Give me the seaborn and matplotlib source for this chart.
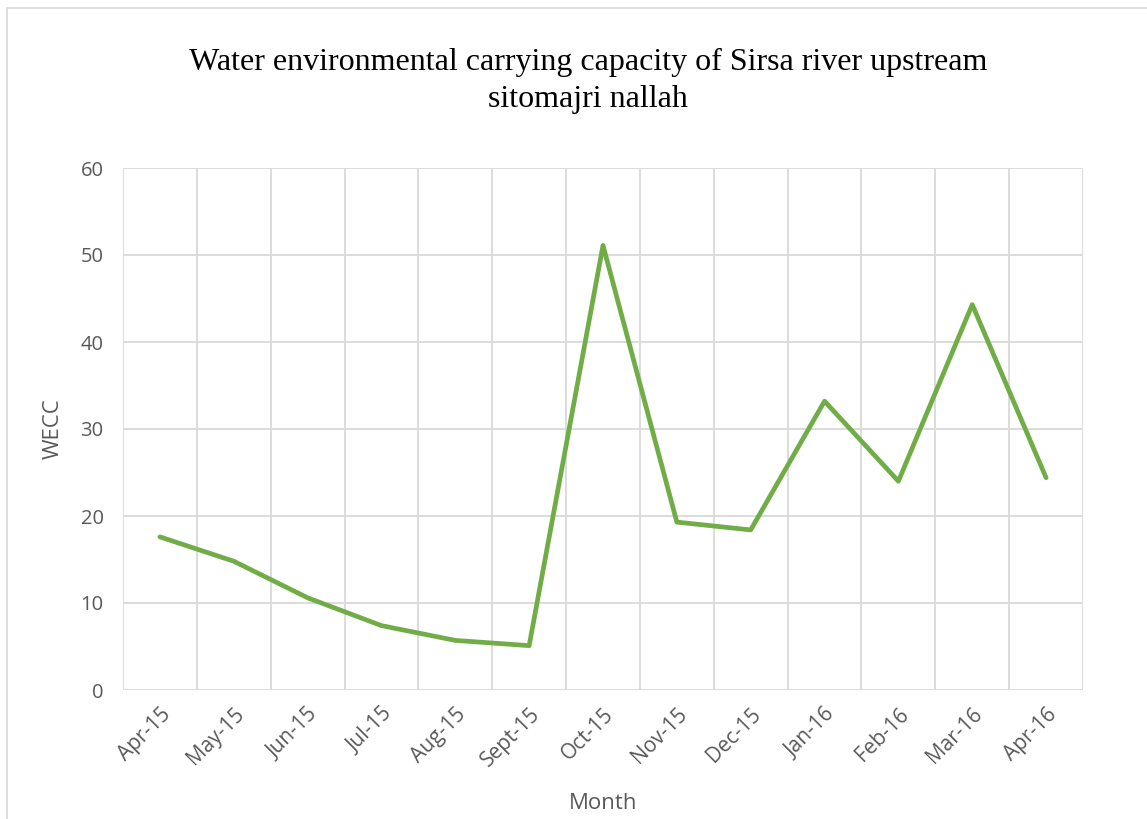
import matplotlib
matplotlib.use("Agg")
import matplotlib.pyplot as plt
from matplotlib.patches import Rectangle
import seaborn as sns
import pandas as pd
import numpy as np

months = ["Apr-15", "May-15", "Jun-15", "Jul-15", "Aug-15", "Sept-15", "Oct-15",
          "Nov-15", "Dec-15", "Jan-16", "Feb-16", "Mar-16", "Apr-16"]
wecc = [17.6, 14.8, 10.6, 7.4, 5.7, 5.1, 51.1, 19.3, 18.4, 33.2, 24.0, 44.3, 24.4]
y_ticks = [0, 10, 20, 30, 40, 50, 60]

title = "Water environmental carrying capacity of Sirsa river upstream\nsitomajri nallah"

sns.set_theme(style="white")
plt.rcParams["font.family"] = ["Open Sans", "DejaVu Sans"]

fig = plt.figure(figsize=(11.47, 8.19), dpi=100)
ax = fig.add_axes([123 / 1147, 1 - 690 / 819, 960 / 1147, 522 / 819])

# outer chart border (right and bottom edges run past the canvas)
fig.patches.append(Rectangle((7 / 1147, -0.05), 1.2, 1.05 - 8 / 819, transform=fig.transFigure,
                             fill=False, edgecolor="#D9D9D9", linewidth=1.2))

df = pd.DataFrame({"pos": np.arange(len(months)), "WECC": wecc})
sns.lineplot(data=df, x="pos", y="WECC", ax=ax, color="#70AD47", linewidth=3.4,
             solid_capstyle="round", solid_joinstyle="round")

ax.set_xlim(-0.5, len(months) - 0.5)
ax.set_ylim(0, 60)
ax.set_xticks(np.arange(len(months)))
ax.set_xticklabels(months, rotation=45, ha="right", rotation_mode="anchor",
                   fontsize=15, color="#595959")
ax.set_yticks(y_ticks)
ax.set_yticklabels([str(v) for v in y_ticks], fontsize=14.5, color="#595959")

ax.grid(False)
for v in y_ticks:
    ax.axhline(v, color="#D9D9D9", linewidth=1.3, zorder=0)
for b in np.arange(len(months) + 1) - 0.5:
    ax.axvline(b, color="#D9D9D9", linewidth=1.3, zorder=0)

for s in ax.spines.values():
    s.set_visible(False)
ax.tick_params(axis="both", which="both", length=0)
ax.tick_params(axis="x", pad=10)
ax.tick_params(axis="y", pad=14)

ax.set_xlabel("Month", fontsize=16, color="#595959", labelpad=16)
ax.set_ylabel("WECC", fontsize=16, color="#595959", labelpad=12)

fig.text(588 / 1147, 1 - 81 / 819, title, ha="center", va="center",
         fontsize=23, family="Liberation Serif", color="black", linespacing=1.35)

fig.savefig("out.png", dpi=100)
